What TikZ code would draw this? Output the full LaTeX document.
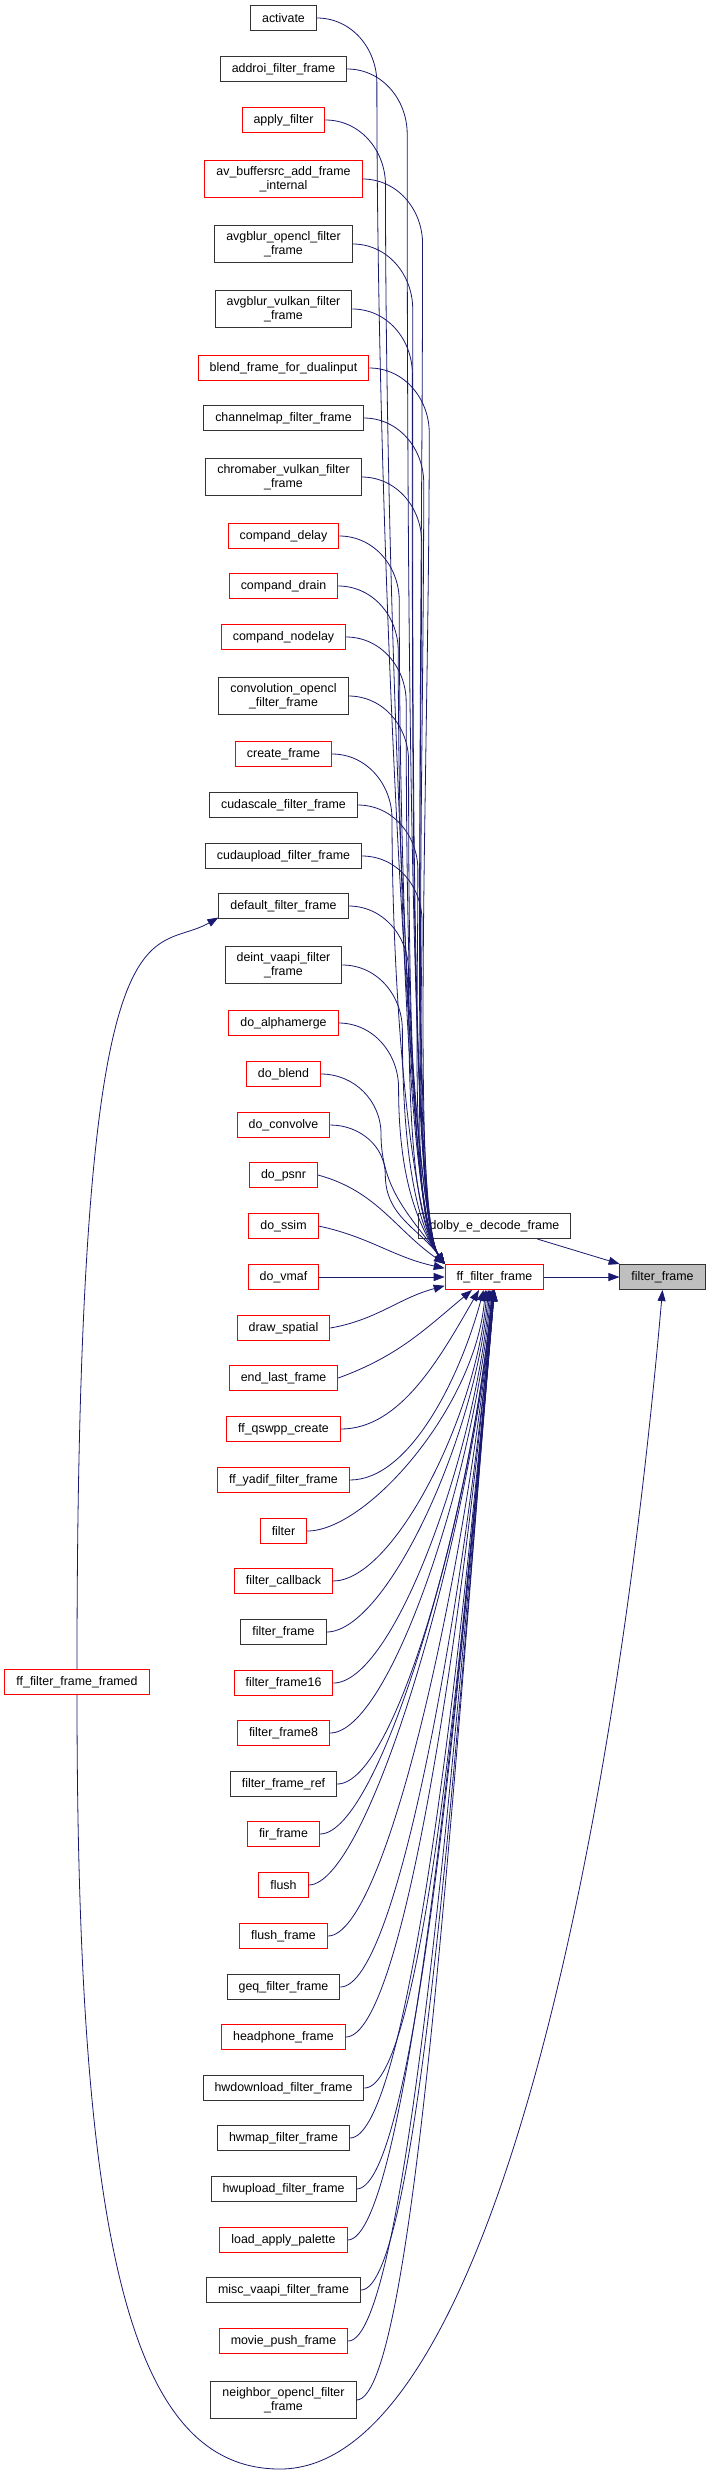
\documentclass[tikz,border=0pt]{standalone}
\usepackage{fontspec}
\setmainfont{Liberation Sans}
\usepackage{tikz}
\usetikzlibrary{arrows.meta}
\definecolor{edgeblue}{RGB}{25,25,112}
\definecolor{rootgray}{RGB}{191,191,191}

\begin{document}
\begin{tikzpicture}[
    x=0.25pt,
    y=0.25pt,
    >={Triangle[length=2.75pt,width=2pt]},
    fn/.style={
        draw=black!80,
        fill=white,
        line width=0.25pt,
        minimum height=6.25pt,
        inner xsep=2.875pt,
        inner ysep=1.5pt,
        align=center,
        font=\fontsize{3.1pt}{3.6pt}\selectfont
    },
    fnr/.style={fn, draw=red},
    call/.style={->, draw=edgeblue, line width=0.2pt},
    turn/.style={out=0, in=90},
    drop/.style={out=-90, in=125, in max distance=15pt},
    rise/.style={out=0, in=-95, out max distance=15pt}
]

\path[fill=white] (0,0) rectangle (711,-2475);

\node[fn]  (activate)  at (283.5,-18)   {activate};
\node[fn]  (addroi)    at (283.5,-69)   {addroi\_filter\_frame};
\node[fnr] (applyf)    at (283.5,-120)  {apply\_filter};
\node[fnr] (avbuf)     at (283.5,-179)  {av\_buffersrc\_add\_frame\\\_internal};
\node[fn]  (avgocl)    at (283.5,-244)  {avgblur\_opencl\_filter\\\_frame};
\node[fn]  (avgvk)     at (283.5,-309)  {avgblur\_vulkan\_filter\\\_frame};
\node[fnr] (blend)     at (283.5,-368)  {blend\_frame\_for\_dualinput};
\node[fn]  (chmap)     at (283.5,-418)  {channelmap\_filter\_frame};
\node[fn]  (chromab)   at (283.5,-477)  {chromaber\_vulkan\_filter\\\_frame};
\node[fnr] (cdelay)    at (283.5,-536)  {compand\_delay};
\node[fnr] (cdrain)    at (283.5,-586)  {compand\_drain};
\node[fnr] (cnodelay)  at (283.5,-637)  {compand\_nodelay};
\node[fn]  (convocl)   at (283.5,-696)  {convolution\_opencl\\\_filter\_frame};
\node[fnr] (create)    at (283.5,-754)  {create\_frame};
\node[fn]  (cudascale) at (283.5,-805)  {cudascale\_filter\_frame};
\node[fn]  (cudaup)    at (283.5,-856)  {cudaupload\_filter\_frame};
\node[fn]  (default)   at (283.5,-906)  {default\_filter\_frame};
\node[fn]  (deint)     at (283.5,-965)  {deint\_vaapi\_filter\\\_frame};
\node[fnr] (alpham)    at (283.5,-1023) {do\_alphamerge};
\node[fnr] (doblend)   at (283.5,-1074) {do\_blend};
\node[fnr] (doconv)    at (283.5,-1125) {do\_convolve};
\node[fnr] (dopsnr)    at (283.5,-1175) {do\_psnr};
\node[fnr] (dossim)    at (283.5,-1226) {do\_ssim};
\node[fnr] (dovmaf)    at (283.5,-1277) {do\_vmaf};
\node[fnr] (drawsp)    at (283.5,-1328) {draw\_spatial};
\node[fnr] (endlast)   at (283.5,-1378) {end\_last\_frame};
\node[fnr] (qswpp)     at (283.5,-1429) {ff\_qswpp\_create};
\node[fnr] (yadif)     at (283.5,-1480) {ff\_yadif\_filter\_frame};
\node[fnr] (filter)    at (283.5,-1531) {filter};
\node[fnr] (fcallback) at (283.5,-1581) {filter\_callback};
\node[fn]  (fframe)    at (283.5,-1632) {filter\_frame};
\node[fnr] (fframe16)  at (283.5,-1683) {filter\_frame16};
\node[fnr] (fframe8)   at (283.5,-1733) {filter\_frame8};
\node[fn]  (fframeref) at (283.5,-1784) {filter\_frame\_ref};
\node[fnr] (fir)       at (283.5,-1834) {fir\_frame};
\node[fnr] (flush)     at (283.5,-1885) {flush};
\node[fnr] (flushfr)   at (283.5,-1936) {flush\_frame};
\node[fn]  (geq)       at (283.5,-1987) {geq\_filter\_frame};
\node[fnr] (headphone) at (283.5,-2037) {headphone\_frame};
\node[fn]  (hwdown)    at (283.5,-2088) {hwdownload\_filter\_frame};
\node[fn]  (hwmap)     at (283.5,-2138) {hwmap\_filter\_frame};
\node[fn]  (hwup)      at (283.5,-2189) {hwupload\_filter\_frame};
\node[fnr] (loadpal)   at (283.5,-2240) {load\_apply\_palette};
\node[fn]  (miscva)    at (283.5,-2290) {misc\_vaapi\_filter\_frame};
\node[fnr] (moviepush) at (283.5,-2341) {movie\_push\_frame};
\node[fn]  (neighbor)  at (283.5,-2400) {neighbor\_opencl\_filter\\\_frame};

\node[fnr] (ff)     at (494.5,-1277) {ff\_filter\_frame};
\node[fn]  (dolby)  at (494.5,-1226) {dolby\_e\_decode\_frame};
\node[fn, fill=rootgray] (target) at (662.5,-1277) {filter\_frame};
\node[fnr] (framed) at (77,-1682) {ff\_filter\_frame\_framed};

\coordinate (loop) at (280,-2469);

\draw[call] (activate.east)  to[turn] ++(60,-65) to[drop] (ff.north west);
\draw[call] (addroi.east)    to[turn] ++(60,-65) to[drop] (ff.north west);
\draw[call] (applyf.east)    to[turn] ++(60,-65) to[drop] (ff.north west);
\draw[call] (avbuf.east)     to[turn] ++(60,-65) to[drop] (ff.north west);
\draw[call] (avgocl.east)    to[turn] ++(60,-65) to[drop] (ff.north west);
\draw[call] (avgvk.east)     to[turn] ++(60,-65) to[drop] (ff.north west);
\draw[call] (blend.east)     to[turn] ++(60,-65) to[drop] (ff.north west);
\draw[call] (chmap.east)     to[turn] ++(60,-65) to[drop] (ff.north west);
\draw[call] (chromab.east)   to[turn] ++(60,-65) to[drop] (ff.north west);
\draw[call] (cdelay.east)    to[turn] ++(60,-65) to[drop] (ff.north west);
\draw[call] (cdrain.east)    to[turn] ++(60,-65) to[drop] (ff.north west);
\draw[call] (cnodelay.east)  to[turn] ++(60,-65) to[drop] (ff.north west);
\draw[call] (convocl.east)   to[turn] ++(60,-65) to[drop] (ff.north west);
\draw[call] (create.east)    to[turn] ++(60,-65) to[drop] (ff.north west);
\draw[call] (cudascale.east) to[turn] ++(60,-65) to[drop] (ff.north west);
\draw[call] (cudaup.east)    to[turn] ++(60,-65) to[drop] (ff.north west);
\draw[call] (default.east)   to[turn] ++(60,-65) to[drop] (ff.north west);
\draw[call] (deint.east)     to[turn] ++(60,-65) to[drop] (ff.north west);
\draw[call] (alpham.east)    to[turn] ++(60,-65) to[drop] (ff.north west);
\draw[call] (doblend.east)   to[turn] ++(60,-60) to[drop] (ff.north west);
\draw[call] (doconv.east)    to[turn] ++(55,-50) to[drop] (ff.north west);
\draw[call] (dopsnr.east)    to[out=-15,in=145] (ff.north west);
\draw[call] (dossim.east)    to[out=-12,in=168] (ff.170);
\draw[call] (dovmaf) -- (ff);
\draw[call] (drawsp.east)    to[out=10,in=-165] (ff.-170);
\draw[call] (endlast.east)   to[out=20,in=-140] (ff.-150);
\draw[call] (qswpp.east)     to[rise,in=-120] (ff.-140);
\draw[call] (yadif.east)     to[rise,in=-105] (ff.-130);
\draw[call] (filter.east)    to[rise] (ff.-125);
\draw[call] (fcallback.east) to[rise] (ff.-120);
\draw[call] (fframe.east)    to[rise] (ff.-115);
\draw[call] (fframe16.east)  to[rise] (ff.-110);
\draw[call] (fframe8.east)   to[rise] (ff.-105);
\draw[call] (fframeref.east) to[rise] (ff.-100);
\draw[call] (fir.east)       to[rise] (ff.-100);
\draw[call] (flush.east)     to[rise] (ff.-97);
\draw[call] (flushfr.east)   to[rise] (ff.-97);
\draw[call] (geq.east)       to[rise] (ff.-95);
\draw[call] (headphone.east) to[rise] (ff.-95);
\draw[call] (hwdown.east)    to[rise] (ff.-93);
\draw[call] (hwmap.east)     to[rise] (ff.-93);
\draw[call] (hwup.east)      to[rise] (ff.-91);
\draw[call] (loadpal.east)   to[rise] (ff.-91);
\draw[call] (miscva.east)    to[rise] (ff.-90);
\draw[call] (moviepush.east) to[rise] (ff.-90);
\draw[call] (neighbor.east)  to[rise] (ff.-90);

\draw[call] (ff) -- (target);
\draw[call] (dolby) -- (target);
\draw[call] (framed.north) to[out=90,in=-150,out distance=200pt,in distance=20pt] (default.-170);
\draw[call] (framed.south) to[out=-90,in=180,out distance=137.5pt,in distance=37.5pt] (loop)
    to[out=0,in=-95,out distance=50pt,in distance=150pt] (target.south);

\end{tikzpicture}
\end{document}
